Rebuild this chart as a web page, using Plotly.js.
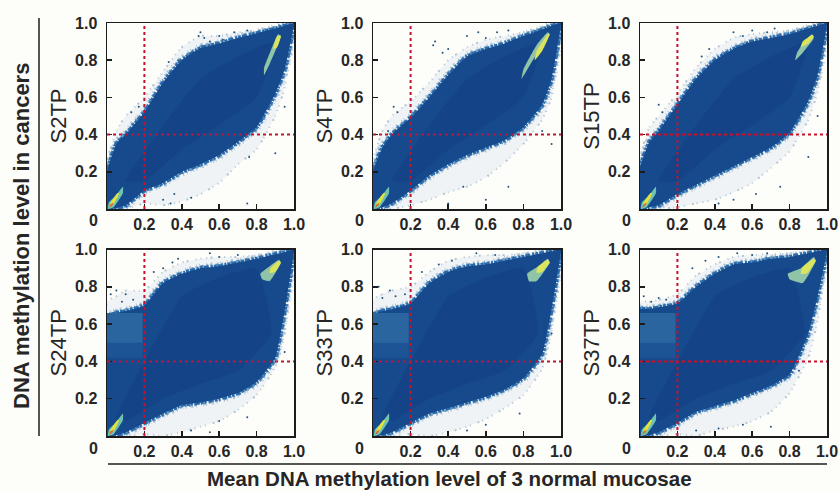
<!DOCTYPE html>
<html><head><meta charset="utf-8">
<script src="https://cdn.plot.ly/plotly-3.0.1.min.js"></script>
<style>html,body{margin:0;padding:0;background:#fdfdfa}</style></head>
<body><div id="chart" style="width:840px;height:491px"></div>
<script>
const panelNames = ["S2TP","S4TP","S15TP","S24TP","S33TP","S37TP"];
const gridX = [0,.05,.1,.2,.3,.4,.5,.6,.7,.8,.9,.95,1];
const cutX = 0.2, cutY = 0.4;
const tickVals = [.2,.4,.6,.8,1];
const tickText = ["0.2","0.4","0.6","0.8","1.0"];

const bodyHi = [
 [.20,.35,.40,.52,.68,.80,.865,.89,.92,.945,.97,.985,1],
 [.20,.33,.40,.49,.60,.72,.82,.86,.89,.93,.965,.985,1],
 [.22,.36,.42,.56,.70,.80,.86,.90,.92,.94,.97,.985,1],
 [.64,.66,.67,.70,.82,.87,.90,.91,.93,.95,.975,.985,1],
 [.65,.67,.68,.71,.82,.88,.91,.92,.94,.96,.98,.99,1],
 [.68,.68,.69,.71,.80,.87,.92,.93,.95,.96,.98,.99,1]];
const bodyLo = [
 [0,.005,.02,.10,.14,.20,.24,.29,.36,.44,.62,.75,.99],
 [0,.01,.03,.10,.18,.24,.29,.33,.37,.44,.56,.70,.99],
 [0,.01,.02,.08,.13,.18,.23,.28,.33,.41,.58,.72,.99],
 [0,.005,.02,.07,.12,.166,.18,.20,.23,.29,.42,.67,.99],
 [0,.005,.02,.07,.12,.15,.18,.21,.25,.31,.44,.68,.99],
 [0,.005,.02,.07,.13,.16,.19,.23,.27,.33,.55,.75,.99]];
const fringeHi = [
 [.25,.42,.50,.60,.74,.87,.93,.93,.95,.96,.98,.99,1],
 [.26,.42,.50,.58,.68,.80,.87,.91,.93,.95,.97,.99,1],
 [.28,.44,.50,.62,.76,.86,.92,.94,.95,.96,.98,.99,1],
 [.72,.75,.78,.78,.88,.93,.95,.96,.96,.97,.985,.99,1],
 [.73,.76,.78,.80,.88,.94,.96,.97,.97,.98,.99,.995,1],
 [.72,.72,.73,.76,.86,.92,.96,.97,.975,.98,.99,.995,1]];
const fringeLo = [
 [0,0,0,.03,.02,.04,.08,.14,.24,.32,.50,.65,.98],
 [0,0,0,.02,.05,.09,.12,.17,.25,.35,.48,.60,.98],
 [0,0,0,.01,.03,.05,.09,.14,.22,.31,.48,.63,.98],
 [0,0,0,.01,0,.02,.05,.08,.14,.22,.37,.55,.98],
 [0,0,0,.01,0,.02,.05,.09,.15,.22,.36,.56,.98],
 [0,0,0,.01,0,.03,.05,.08,.13,.23,.42,.62,.98]];

// darker diagonal centre of the cloud, upper and lower rows
const innerTopX = [.1,.3,.5,.7,.9,.8,.6,.4,.2];
const innerTopY = [.15,.45,.7,.82,.9,.6,.45,.32,.15];
const innerBotX = [.05,.2,.4,.6,.8,.88,.7,.5,.3,.1];
const innerBotY = [.1,.4,.75,.85,.9,.55,.35,.28,.2,.08];

// paler blocks left of the cut line in the lower panels
const paleX = [0,.19,.19,0];
const paleY = [.42,.42,.66,.66];
const paler2X = [0,.19,.19,0];
const paler2Y = [.50,.50,.66,.66];

// dense clusters near the origin
const lowX = [.005,.035,.085,.085,.05,.01];
const lowY = [0,.01,.085,.12,.075,.035];
const lowCoreX = [.015,.035,.065,.055,.02];
const lowCoreY = [.012,.025,.085,.085,.035];
const lowRedX = [.012,.03,.036,.018];
const lowRedY = [.006,.022,.035,.024];

// dense clusters near the top right, one per panel
const highX = [
 [.84,.87,.93,.915,.875,.84],
 [.79,.85,.94,.93,.87,.80],
 [.83,.87,.93,.92,.87,.84],
 [.83,.87,.93,.92,.87,.82],
 [.83,.87,.94,.93,.88,.82],
 [.80,.87,.94,.93,.86,.79]];
const highY = [
 [.72,.78,.93,.94,.85,.76],
 [.70,.80,.94,.95,.88,.75],
 [.80,.84,.92,.94,.89,.84],
 [.84,.83,.93,.945,.91,.87],
 [.83,.83,.93,.95,.91,.87],
 [.84,.82,.94,.96,.90,.87]];
const highCoreX = [
 [.89,.91,.93,.91,.895],
 [.86,.90,.94,.93,.87],
 [.86,.90,.93,.92,.87],
 [.87,.90,.93,.92,.875],
 [.87,.90,.94,.93,.875],
 [.86,.89,.94,.93,.865]];
const highCoreY = [
 [.86,.87,.93,.93,.89],
 [.80,.85,.94,.94,.85],
 [.87,.89,.93,.935,.90],
 [.875,.88,.93,.94,.90],
 [.875,.88,.93,.945,.905],
 [.87,.87,.94,.95,.90]];

// scattered specks
const speckX = [
 [.13,.17,.33,.38,.49,.50,.52,.55,.60,.62,.68,.75,.30,.34,.36,.45,.75,.76,.90,.95],
 [.08,.11,.13,.32,.33,.37,.40,.50,.56,.60,.66,.72,.40,.48,.60,.72,.95,.90],
 [.10,.12,.33,.37,.50,.55,.60,.68,.72,.42,.50,.62,.75,.90,.95],
 [.02,.05,.08,.10,.14,.25,.30,.35,.38,.55,.60,.70,.45,.55,.60,.75,.95],
 [.03,.05,.09,.12,.17,.26,.35,.42,.55,.65,.50,.60,.78,.95],
 [.02,.06,.10,.14,.28,.35,.42,.52,.60,.68,.30,.42,.55,.70,.85]];
const speckY = [
 [.52,.55,.79,.80,.93,.95,.92,.90,.93,.91,.95,.96,.05,.03,.08,.06,.03,.28,.30,.55],
 [.42,.55,.52,.88,.90,.84,.86,.93,.95,.92,.95,.96,.03,.12,.05,.12,.35,.42],
 [.56,.52,.82,.86,.95,.93,.96,.95,.97,.03,.05,.08,.12,.28,.50],
 [.76,.78,.72,.76,.73,.88,.90,.93,.95,.98,.96,.97,.03,.02,.08,.10,.45],
 [.80,.74,.78,.75,.76,.88,.92,.94,.98,.97,.03,.06,.12,.55],
 [.75,.72,.74,.73,.90,.94,.96,.98,.97,.98,.03,.04,.06,.05,.35]];

const C = {fringe:'#eff3f6', fringeDot:'#b4c6d4', grain:'#6d9cc6', edge:'#2a6cab', body:'#174a8c', inner:'#144487',
           pale:'#1c5495', paler:'#2b659f',
           low:'#6fc3b0', core:'#e6e23a', red:'#d8642a', high:'#8fc4a8', highCore:'#dbe45a',
           speck:'#24537f', cut:'#c4122f', frame:'#1c1c1c', text:'#262626'};
const FONT = '"Liberation Sans",Arial,sans-serif';
const boxesX = [[107,294],[373,561],[640,827]];
const boxesY = [[23,209],[249.5,436]];
const W = 840, H = 491;

function poly(x, y, color, ax, ay, smooth){
  return {type:'scatter', mode:'lines', x:x.concat(x[0]), y:y.concat(y[0]),
    fill:'toself', fillcolor:color, line:{width:0,color:color,shape:smooth?'spline':'linear',smoothing:0.4}, hoverinfo:'skip',
    showlegend:false, xaxis:ax, yaxis:ay};
}
function outline(x, y, color, width, dash, ax, ay){
  return {type:'scatter', mode:'lines', x:x.concat(x[0]), y:y.concat(y[0]),
    line:{width:width,color:color,dash:dash,shape:'spline',smoothing:0.4}, hoverinfo:'skip',
    showlegend:false, xaxis:ax, yaxis:ay};
}
const traces = [], layout = {
  width:W, height:H, margin:{l:0,r:0,t:0,b:0}, paper_bgcolor:'#fdfdfa', plot_bgcolor:'rgba(0,0,0,0)',
  showlegend:false, font:{family:FONT, color:C.text},
  shapes:[], annotations:[]
};
panelNames.forEach((name,i)=>{
  const n = i+1, sfx = n===1?'':n, ax='x'+sfx, ay='y'+sfx;
  const bx = boxesX[i%3], by = boxesY[i<3?0:1];
  const px = gridX.concat(gridX.slice().reverse());
  const fy = fringeHi[i].concat(fringeLo[i].slice().reverse());
  const by2 = bodyHi[i].concat(bodyLo[i].slice().reverse());
  traces.push(poly(px, fy, C.fringe, ax, ay, true));
  traces.push(outline(px, fy, C.fringeDot, 2, '1px,5px,1px,3px,2px,7px,1px,4px', ax, ay));
  traces.push(outline(px, by2, C.fringeDot, 9, '1px,3px,2px,5px,1px,2px,1px,6px', ax, ay));
  traces.push(outline(px, by2, C.grain, 6, '2px,2px,1px,4px,3px,3px', ax, ay));
  traces.push(outline(px, by2, C.edge, 4, '3px,1px,5px,2px,2px,1px', ax, ay));
  traces.push(poly(px, by2, C.body, ax, ay, true));
  traces.push(i<3 ? poly(innerTopX, innerTopY, C.inner, ax, ay, true) : poly(innerBotX, innerBotY, C.inner, ax, ay, true));
  if(i>=3){
    traces.push(poly(paleX, paleY, C.pale, ax, ay, false));
    traces.push(poly(paler2X, paler2Y, C.paler, ax, ay, false));
  }
  traces.push({type:'scatter',mode:'markers',x:speckX[i],y:speckY[i],marker:{size:2,color:C.speck},
     hoverinfo:'skip',showlegend:false,xaxis:ax,yaxis:ay});
  traces.push(poly(highX[i], highY[i], C.high, ax, ay, true));
  traces.push(poly(highCoreX[i], highCoreY[i], C.highCore, ax, ay, true));
  traces.push(poly(lowX, lowY, C.low, ax, ay, true));
  traces.push(poly(lowCoreX, lowCoreY, C.core, ax, ay, true));
  traces.push(poly(lowRedX, lowRedY, C.red, ax, ay));
  const common = {range:[0,1], tickmode:'array', tickvals:tickVals, ticktext:tickText, ticks:'inside', ticklen:5,
    tickwidth:1.5, tickcolor:C.frame, showgrid:false, zeroline:false, showline:true, linewidth:1.5,
    linecolor:C.frame, mirror:true, tickfont:{size:16,color:C.text,family:FONT,weight:'bold'},
    fixedrange:true};
  layout['xaxis'+sfx] = Object.assign({}, common, {domain:[bx[0]/W,bx[1]/W], anchor:ay});
  layout['yaxis'+sfx] = Object.assign({}, common, {domain:[1-by[1]/H,1-by[0]/H], anchor:ax, ticklabelstandoff:5,
     title:{text:name, standoff:2, font:{size:22,color:C.text}}});
  layout.shapes.push({type:'line',xref:ax,yref:ay,x0:cutX,x1:cutX,y0:0,y1:1,line:{color:C.cut,width:2,dash:'dot'}});
  layout.shapes.push({type:'line',xref:ax,yref:ay,x0:0,x1:1,y0:cutY,y1:cutY,line:{color:C.cut,width:2,dash:'dot'}});
  layout.annotations.push({xref:'paper',yref:'paper',x:(bx[0]-14)/W,y:1-(by[1]+12)/H,text:'<b>0</b>',showarrow:false,
     xanchor:'center',yanchor:'middle',font:{size:16,color:C.text}});
});
layout.shapes.push({type:'line',xref:'paper',yref:'paper',x0:39/W,x1:39/W,y0:1-18/H,y1:1-436/H,line:{color:C.frame,width:1.5}});
layout.shapes.push({type:'line',xref:'paper',yref:'paper',x0:108/W,x1:827/W,y0:1-464/H,y1:1-464/H,line:{color:C.frame,width:1.5}});
layout.annotations.push({xref:'paper',yref:'paper',x:21/W,y:1-236/H,textangle:-90,showarrow:false,
   xanchor:'center',yanchor:'middle',text:'<b>DNA methylation level in cancers</b>',font:{size:22,color:C.text}});
layout.annotations.push({xref:'paper',yref:'paper',x:449/W,y:1-478.5/H,showarrow:false,
   xanchor:'center',yanchor:'middle',text:'<b>Mean DNA methylation level of 3 normal mucosae</b>',font:{size:20.5,color:C.text}});
Plotly.newPlot('chart',traces,layout,{displayModeBar:false,staticPlot:true});
</script></body></html>
